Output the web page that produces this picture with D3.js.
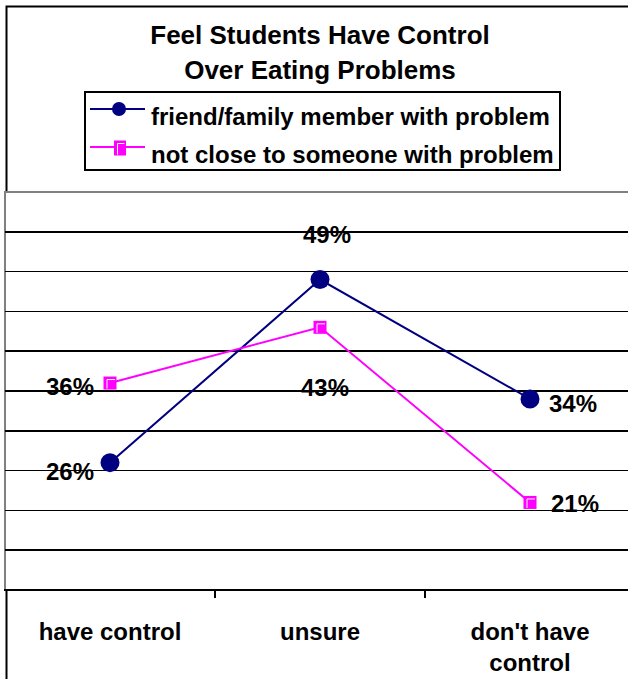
<!DOCTYPE html>
<html>
<head>
<meta charset="utf-8">
<script src="https://cdn.jsdelivr.net/npm/d3@7"></script>
<style>
  html, body { margin: 0; padding: 0; background: #fff; }
  svg { display: block; }
  text { font-family: "Liberation Sans", Arial, sans-serif; font-weight: bold; fill: #000; }
</style>
</head>
<body>
<svg id="chart" width="628" height="679"></svg>
<script>
// ---- data ----
const titleLines = ["Feel Students Have Control", "Over Eating Problems"];
const categories = ["have control", "unsure", "don't have control"];
const categoryLabelLines = [["have control"], ["unsure"], ["don't have", "control"]];
const seriesNames = ["friend/family member with problem", "not close to someone with problem"];
const friendValues = [26, 49, 34];
const notCloseValues = [36, 43, 21];
const yTicks = [15, 20, 25, 30, 35, 40, 45, 50, 55];

// ---- label placement (styling) ----
const friendLabelPos = [
  { anchor: "end", dx: -16, dy: 17 },
  { anchor: "middle", dx: 7, dy: -37 },
  { anchor: "start", dx: 19, dy: 13 }
];
const notCloseLabelPos = [
  { anchor: "end", dx: -16, dy: 12 },
  { anchor: "middle", dx: 5, dy: 69 },
  { anchor: "start", dx: 21, dy: 10 }
];

const NAVY = "#000080", MAGENTA = "#FF00FF";
const svg = d3.select("#chart");

// chart border
svg.append("rect").attr("x", 6.5).attr("y", 6.5).attr("width", 700).attr("height", 700)
  .attr("fill", "#fff").attr("stroke", "#000").attr("stroke-width", 2);

const plot = { left: 5, right: 635, top: 192, bottom: 590 };
const x = d3.scaleBand().domain(categories).range([plot.left, plot.right]).padding(0);
const y = d3.scaleLinear().domain([10, 60]).range([plot.bottom, plot.top]);

// plot area
svg.append("rect").attr("x", plot.left).attr("y", plot.top)
  .attr("width", 700).attr("height", plot.bottom - plot.top)
  .attr("fill", "#fff").attr("stroke", "#808080").attr("stroke-width", 2);

// gridlines
svg.append("g").selectAll("line").data(yTicks).join("line")
  .attr("x1", plot.left).attr("x2", 628)
  .attr("y1", d => y(d)).attr("y2", d => y(d))
  .attr("stroke", "#000").attr("stroke-width", 1.6)
  .attr("shape-rendering", "crispEdges");

// x axis
const xAxisG = svg.append("g").attr("transform", `translate(0,${plot.bottom})`);
xAxisG.append("line").attr("x1", 4).attr("x2", 628).attr("y1", 0).attr("y2", 0)
  .attr("stroke", "#000").attr("stroke-width", 2);
xAxisG.selectAll("line.tick").data(categories.slice(1)).join("line")
  .attr("class", "tick")
  .attr("x1", d => x(d)).attr("x2", d => x(d))
  .attr("y1", 0).attr("y2", 8)
  .attr("stroke", "#000").attr("stroke-width", 2);

// category labels
categories.forEach((c, i) => {
  const t = svg.append("text").attr("text-anchor", "middle").attr("font-size", 24)
    .attr("x", x(c) + x.bandwidth() / 2).attr("y", 640);
  categoryLabelLines[i].forEach((ln, j) => {
    t.append("tspan").attr("x", x(c) + x.bandwidth() / 2).attr("dy", j === 0 ? 0 : 31).text(ln);
  });
});

const cx = (d, i) => x(categories[i]) + x.bandwidth() / 2;
const line = d3.line().x((d, i) => cx(d, i)).y(d => y(d));

// series lines
svg.append("path").datum(friendValues).attr("d", line)
  .attr("fill", "none").attr("stroke", NAVY).attr("stroke-width", 2);
svg.append("path").datum(notCloseValues).attr("d", line)
  .attr("fill", "none").attr("stroke", MAGENTA).attr("stroke-width", 2);

// markers
svg.append("g").selectAll("circle").data(friendValues).join("circle")
  .attr("cx", (d, i) => cx(d, i)).attr("cy", d => y(d)).attr("r", 9.5)
  .attr("fill", NAVY);

function squareMarker(g, px, py, w, h) {
  g.append("rect").attr("x", px - w / 2).attr("y", py - h / 2).attr("width", w).attr("height", h)
    .attr("fill", MAGENTA);
  g.append("polyline")
    .attr("points", `${px - w / 2 + 3.5},${py + h / 2 - 1} ${px - w / 2 + 3.5},${py - h / 2 + 3} ${px + w / 2 - 1.5},${py - h / 2 + 3}`)
    .attr("fill", "none").attr("stroke", "#fff").attr("stroke-width", 1);
}
const sqG = svg.append("g");
notCloseValues.forEach((d, i) => squareMarker(sqG, cx(d, i), y(d), 13, 13));

// data labels
function addLabels(values, pos) {
  values.forEach((d, i) => {
    svg.append("text").attr("font-size", 24).attr("text-anchor", pos[i].anchor)
      .attr("x", cx(d, i) + pos[i].dx).attr("y", y(d) + pos[i].dy)
      .text(d + "%");
  });
}
addLabels(friendValues, friendLabelPos);
addLabels(notCloseValues, notCloseLabelPos);

// title
titleLines.forEach((t, i) => {
  svg.append("text").attr("text-anchor", "middle").attr("font-size", 26)
    .attr("x", 320).attr("y", 44 + i * 35).text(t);
});

// legend
const lg = svg.append("g");
lg.append("rect").attr("x", 85).attr("y", 92).attr("width", 475).attr("height", 78)
  .attr("fill", "#fff").attr("stroke", "#000").attr("stroke-width", 2);
const legendRows = [
  { name: seriesNames[0], color: NAVY, ly: 109, ty: 125, type: "circle" },
  { name: seriesNames[1], color: MAGENTA, ly: 147, ty: 163, type: "square" }
];
legendRows.forEach(r => {
  lg.append("line").attr("x1", 90).attr("x2", 145).attr("y1", r.ly).attr("y2", r.ly)
    .attr("stroke", r.color).attr("stroke-width", 2);
  if (r.type === "circle") {
    lg.append("circle").attr("cx", 119).attr("cy", r.ly).attr("r", 7).attr("fill", r.color);
  } else {
    squareMarker(lg, 120, r.ly + 1, 12, 15);
  }
  lg.append("text").attr("font-size", 24).attr("x", 151).attr("y", r.ty).text(r.name);
});
</script>
</body>
</html>
